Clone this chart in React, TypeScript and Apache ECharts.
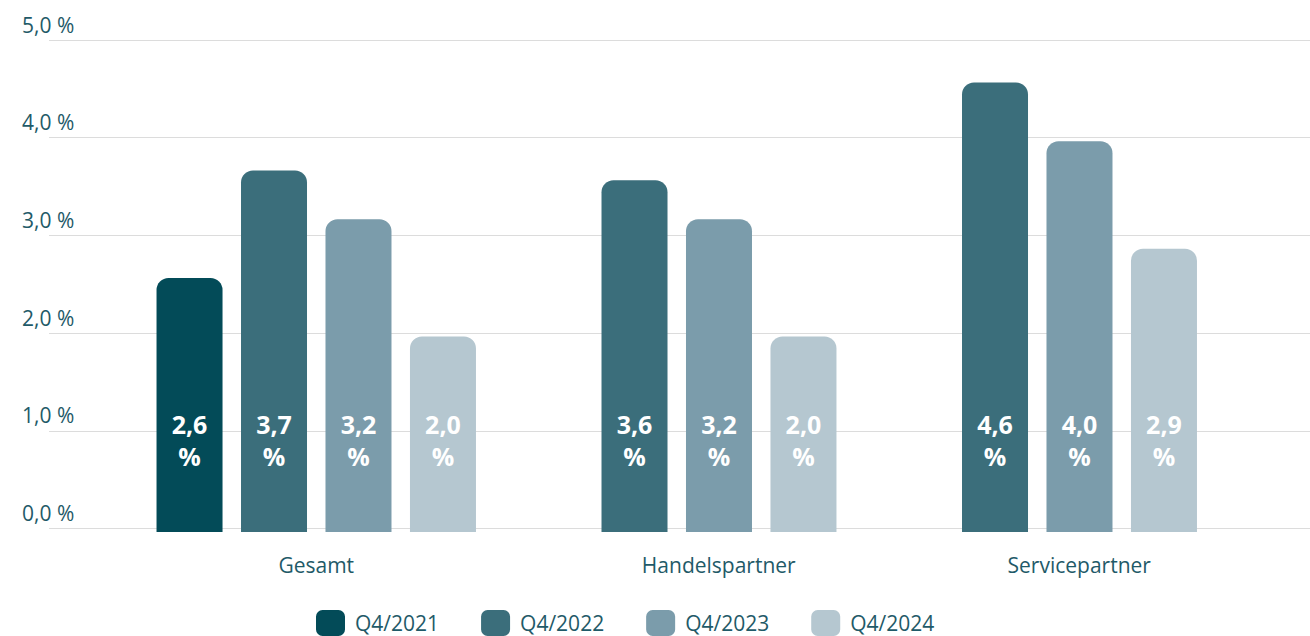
import React, { useEffect, useRef } from "react";
import * as echarts from "echarts";

const categories = ["Gesamt", "Handelspartner", "Servicepartner"];
const seriesNames = ["Q4/2021", "Q4/2022", "Q4/2023", "Q4/2024"];
const q42021 = [2.6, null, null];
const q42022 = [3.7, 3.6, 4.6];
const q42023 = [3.2, 3.2, 4.0];
const q42024 = [2.0, 2.0, 2.9];
const yTicks = [0, 1, 2, 3, 4, 5];

const colors = ["#034b58", "#3b6e7b", "#7b9cab", "#b5c7d0"];
const textColor = "#1f5a68";
const font = "'Open Sans', 'Noto Sans', sans-serif";

export default function App() {
  const ref = useRef<HTMLDivElement>(null);
  useEffect(() => {
    if (!ref.current) return;
    const chart = echarts.init(ref.current, undefined, { renderer: "svg" });
    const values = [q42021, q42022, q42023, q42024];
    const fmt = (v: number) => v.toFixed(1).replace(".", ",");
    chart.setOption({
      animation: false,
      textStyle: { fontFamily: font },
      grid: [
        { left: 49, right: 0, top: 40, bottom: 107.5 },
        { left: 136, right: 92.5, top: 43.5, bottom: 104 },
      ],
      xAxis: [
        { gridIndex: 0, type: "category", data: ["x"], show: false },
        {
          gridIndex: 1,
          type: "category",
          data: categories,
          axisLine: { show: false },
          axisTick: { show: false },
          axisLabel: {
            margin: 22,
            formatter: (v: string, i: number) => (i === 0 ? `{a|${v}}` : `{b|${v}}`),
            rich: {
              a: { fontSize: 21, color: textColor, fontFamily: font },
              b: { fontSize: 21, color: textColor, fontFamily: font, padding: [0, 0, 0, 84] },
            },
          },
        },
      ],
      yAxis: [
        {
          gridIndex: 0,
          type: "value",
          min: 0,
          max: 5,
          interval: 1,
          axisLine: { show: false },
          axisTick: { show: false },
          splitLine: { lineStyle: { color: "#dcdcdc", width: 1.2 } },
          axisLabel: {
            align: "left",
            margin: 27,
            verticalAlign: "bottom",
            lineHeight: 31,
            fontSize: 21,
            color: textColor,
            fontFamily: font,
            formatter: (v: number) => (yTicks.includes(v) ? fmt(v) + " %" : ""),
          },
        },
        { gridIndex: 1, type: "value", min: 0, max: 5, interval: 1, show: false, splitLine: { show: false } },
      ],
      legend: {
        data: seriesNames,
        left: 316,
        top: 610,
        padding: 0,
        icon: "roundRect",
        itemWidth: 29,
        itemHeight: 26,
        itemGap: 42,
        textStyle: { fontSize: 21, color: textColor, fontFamily: font, padding: [0, 0, 0, 5] },
      },
      series: seriesNames.map((name, i) => ({
        name,
        type: "bar",
        xAxisIndex: 1,
        yAxisIndex: 1,
        data: values[i],
        barWidth: 66,
        barGap: "28%",
        itemStyle: { color: colors[i], borderRadius: [12, 12, 0, 0] },
        label: {
          show: true,
          position: "insideBottom",
          distance: 60,
          color: "#ffffff",
          fontSize: 25,
          fontWeight: "bold",
          lineHeight: 32,
          fontFamily: font,
          formatter: (p: any) => fmt(p.value) + "\n%",
        },
      })),
    });
    return () => chart.dispose();
  }, []);
  return (
    <div
      ref={ref}
      style={{ position: "absolute", left: 0, top: 0, width: 1310, height: 636, background: "#ffffff" }}
    />
  );
}
